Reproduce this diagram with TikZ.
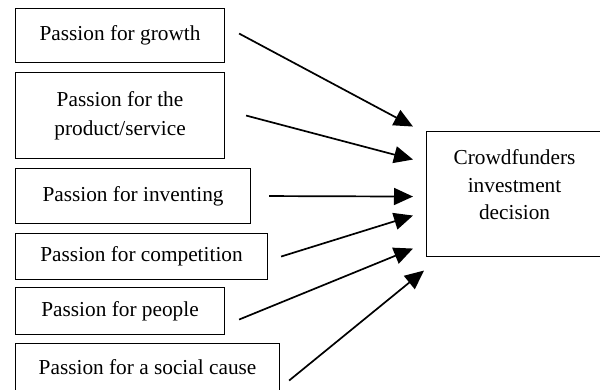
\documentclass[tikz,border=0pt]{standalone}
\usepackage{fontspec}
\setmainfont{Liberation Serif}
\usetikzlibrary{positioning,arrows.meta,calc}

\tikzset{
  passion/.style={draw,line width=1.1pt,anchor=north west,inner sep=0pt,align=center,
    font=\fontsize{21.3}{29}\selectfont},
  arr/.style={->,line width=1.7pt}
}

\begin{document}
\begin{tikzpicture}[x=1pt,y=-1pt,>={Triangle[length=19pt,width=17pt]}]
  \useasboundingbox (0,0) rectangle (600,390);
  \clip (0,0) rectangle (600,390);
  % passion boxes
  \node[passion,minimum width=209pt,minimum height=54pt] (growth) at (15,8) {Passion for growth};
  \node[passion,minimum width=209pt,minimum height=86pt] (product) at (15,72) {Passion for the\\product/service};
  \node[passion,minimum width=235pt,minimum height=55pt] (inventing) at (15,168) {Passion for inventing};
  \node[passion,minimum width=252pt,minimum height=46pt] (competition) at (15,233) {Passion for competition};
  \node[passion,minimum width=209pt,minimum height=47pt] (people) at (15,287) {Passion for people};
  \node[passion,minimum width=264pt,minimum height=48pt] (social) at (15,343) {Passion for a social cause};
  % outcome
  \node[passion,minimum width=176pt,minimum height=125pt] (decision) at (426,131) {};
  \node[align=center,font=\fontsize{21.3}{27.5}\selectfont] (decisiontext)
    at ([shift={(0,-9)}]decision.center) {Crowdfunders\\investment\\decision};
  % arrows
  \draw[arr] ([shift={(14,-2)}]growth.east) -- ([shift={(-13,-67.5)}]decision.west);
  \draw[arr] ([shift={(21,0)}]product.east) -- ([shift={(-13,-34.5)}]decision.west);
  \draw[arr] ([shift={(18,0)}]inventing.east) -- ([shift={(-13,2.5)}]decision.west);
  \draw[arr] ([shift={(13,0)}]competition.east) -- ([shift={(-13,21.5)}]decision.west);
  \draw[arr] ([shift={(14,8.5)}]people.east) -- ([shift={(-13,54.5)}]decision.west);
  \draw[arr] ([shift={(9,13)}]social.east) -- ([shift={(-2,76.5)}]decision.west);
\end{tikzpicture}
\end{document}
